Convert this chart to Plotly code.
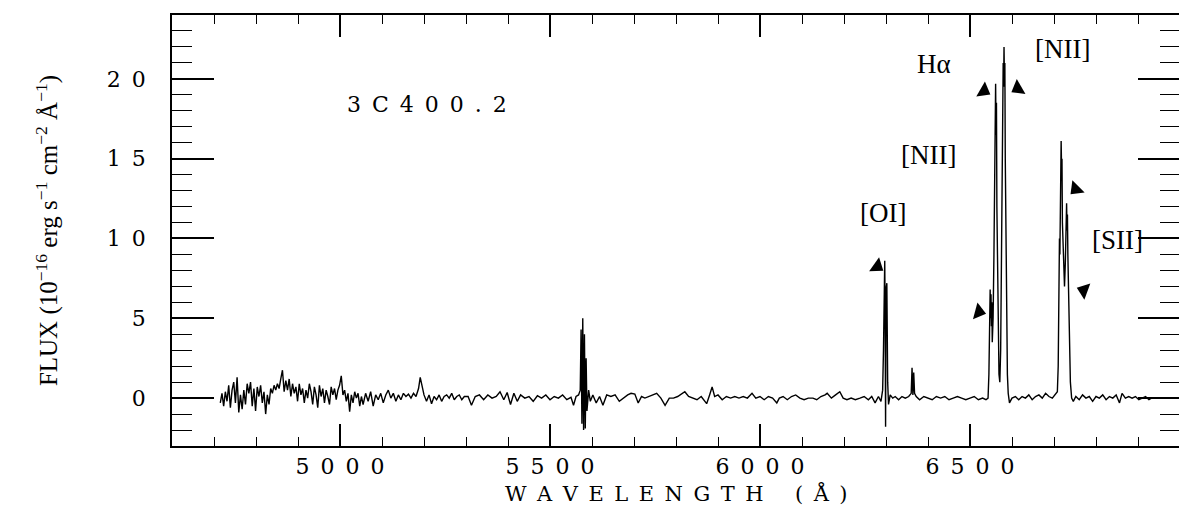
import plotly.graph_objects as go

# ---------------- data (wavelength in Å, flux in 1e-16 cgs) ----------------
blue_wavelength = [
    4715, 4719, 4723, 4727, 4731, 4735, 4739, 4743, 4747, 4751, 4755, 4759, 4763, 4767, 4771,
    4775, 4779, 4783, 4787, 4791, 4795, 4799, 4803, 4807, 4811, 4815, 4819, 4823, 4827, 4831,
    4835, 4839, 4843, 4847, 4851, 4855, 4859, 4863, 4867, 4871, 4875, 4879, 4883, 4887, 4891,
    4895, 4899, 4903, 4907, 4911, 4915, 4919, 4923, 4927, 4931, 4935, 4939, 4943, 4947, 4951,
    4955, 4959, 4963, 4967, 4971, 4975, 4979, 4983, 4987, 4991, 4995, 4999, 5003, 5007, 5011,
    5015, 5019, 5023, 5027, 5031, 5035, 5039, 5043, 5047, 5051, 5055,
    5061, 5067, 5073, 5079, 5085, 5091, 5097, 5103, 5109, 5115, 5121, 5127, 5133, 5139, 5145,
    5151, 5157, 5163, 5169, 5175, 5181, 5187, 5191, 5195, 5200, 5206, 5212, 5218, 5224, 5230,
    5236, 5242, 5248, 5254, 5260, 5266, 5272, 5278, 5284, 5290, 5296,
]
blue_flux = [
    -0.3, 0.3, -0.5, 0.4, -0.2, 0.8, -0.6, 0.5, 1.0, -0.3, 1.3, -0.9, 0.2, -0.7, 0.5,
    -0.4, 0.9, 0.3, 1.0, -0.5, 0.6, -0.8, 0.7, 0.1, 0.8, -0.3, 0.4, -1.0, 0.2, -0.4,
    0.6, 0.3, 0.8, 0.5, 0.9, 0.6, 1.2, 1.75, 0.4, 1.1, 0.5, 1.2, 0.1, 0.9, 0.3,
    0.7, -0.2, 0.9, 0.2, 0.6, -0.3, 0.5, 0.0, 0.9, 0.4, -0.4, 0.7, 0.2, -0.6, 0.8,
    0.1, 0.6, -0.3, 0.5, 0.1, -0.4, 0.7, 0.2, 0.6, -0.1, 0.5, 0.8, 1.4, 0.2, 0.5,
    -0.2, 0.3, -0.85, 0.2, -0.3, 0.4, 0.0, 0.3, -0.5, 0.1, -0.4,
    0.3, -0.2, 0.4, -0.5, 0.2, -0.1, 0.3, -0.3, 0.2, 0.5, 0.0, 0.3, -0.2, 0.2, -0.1,
    0.3, 0.1, 0.25, 0.0, 0.3, 0.1, 0.6, 1.3, 0.8, 0.2, -0.2, 0.2, -0.35, 0.1, -0.1,
    0.2, -0.2, 0.1, 0.2, 0.0, 0.3, -0.1, 0.1, 0.2, -0.1, 0.1,
]

green_wavelength = [
    5305, 5313, 5322, 5332, 5342, 5352, 5362, 5372, 5381, 5390, 5398, 5406, 5414, 5422, 5430,
    5440, 5450, 5460, 5470, 5480, 5490, 5500, 5510, 5520, 5530, 5540, 5550, 5556, 5562, 5568,
]
green_flux = [
    0.1, -0.45, 0.1, 0.2, -0.1, 0.2, 0.0, 0.1, 0.4, -0.1, 0.35, -0.4, 0.3, -0.2, 0.2,
    0.0, 0.1, -0.2, 0.15, 0.0, 0.2, -0.1, 0.1, 0.0, 0.2, -0.1, 0.05, -0.45, 0.1, 0.2,
]

sky_wavelength = [5572, 5574, 5576, 5578, 5580, 5582, 5584, 5586, 5588, 5592, 5596]
sky_flux = [0.5, 4.3, -1.6, 5.0, -2.0, 4.0, -1.9, 2.5, -0.8, 0.5, -0.2]

red_wavelength = [
    5602, 5610, 5618, 5626, 5635, 5645, 5655, 5665, 5675, 5685, 5693, 5702, 5710, 5718, 5726,
    5735, 5745, 5754, 5764, 5774, 5784, 5794, 5804, 5814, 5821, 5830, 5840, 5850, 5860, 5873,
    5880, 5886, 5892, 5900, 5910, 5920, 5930, 5940, 5950, 5960, 5970, 5981, 5990, 6000, 6010,
    6020, 6030, 6040, 6046, 6055, 6065, 6075, 6085, 6095, 6105, 6115, 6126, 6135, 6145, 6155,
    6160, 6170, 6180, 6190, 6198, 6207, 6217, 6227, 6238, 6248, 6258, 6266, 6274, 6282, 6288,
]
red_flux = [
    0.2, -0.3, 0.1, -0.45, 0.2, 0.1, 0.2, -0.2, 0.0, 0.2, 0.3, 0.25, -0.3, 0.1, 0.0,
    0.1, 0.2, 0.3, 0.0, -0.45, 0.0, 0.0, 0.1, 0.3, 0.4, 0.1, 0.0, -0.1, 0.1, -0.35,
    0.2, 0.7, 0.1, 0.2, -0.1, 0.1, 0.0, 0.1, 0.0, 0.1, 0.0, 0.3, 0.0, 0.1, -0.1,
    0.1, 0.0, -0.3, 0.0, 0.1, -0.1, 0.1, 0.2, 0.0, -0.1, 0.0, 0.0, -0.1, 0.1, 0.2,
    0.3, 0.0, 0.2, 0.4, 0.0, -0.1, 0.0, -0.1, 0.0, 0.1, -0.1, 0.1, -0.3, 0.1, -0.2,
]

oi_wavelength = [6292, 6294, 6296, 6297, 6298, 6299, 6300, 6302, 6304, 6306]
oi_flux = [0.5, 3.0, 7.6, 8.6, 5.0, -1.8, 6.8, 7.2, 1.0, -0.4]

mid_wavelength = [
    6310, 6316, 6322, 6330, 6338, 6346, 6354, 6360, 6362, 6364, 6366, 6368, 6372, 6380, 6390,
    6400, 6410, 6420, 6430, 6440, 6450, 6460, 6470, 6480, 6490, 6500, 6510, 6520, 6530, 6538,
]
mid_flux = [
    0.2, 0.0, 0.1, -0.1, 0.1, 0.0, 0.1, 0.3, 1.9, 0.2, 1.6, 0.3, 0.1, -0.1, 0.1,
    0.0, -0.1, 0.1, 0.0, 0.1, -0.1, 0.0, 0.1, 0.0, -0.1, 0.0, 0.1, -0.1, 0.0, -0.1,
]

halpha_wavelength = [
    6543, 6545, 6546, 6547, 6548, 6549, 6550, 6551, 6552, 6553, 6555, 6557, 6558, 6559, 6560,
    6561, 6562, 6563, 6564, 6565, 6567, 6569, 6571, 6573, 6575, 6576, 6577, 6578, 6579, 6580,
    6581, 6582, 6583, 6584, 6585, 6587, 6589, 6591, 6594, 6600,
]
halpha_flux = [
    0.0, 1.5, 5.0, 3.5, 6.8, 5.0, 6.5, 4.5, 6.0, 3.5, 5.0, 9.0, 13.0, 11.0, 18.0,
    19.7, 16.5, 18.5, 12.0, 10.0, 5.0, 1.5, 1.0, 3.0, 9.0, 13.0, 12.0, 18.0, 21.0, 19.5,
    22.0, 20.0, 21.0, 15.0, 12.0, 5.0, 1.5, 0.3, -0.3, 0.0,
]

gap_wavelength = [6608, 6616, 6624, 6632, 6640, 6648, 6656, 6664, 6672, 6680, 6688, 6696, 6702, 6706]
gap_flux = [0.1, -0.1, 0.1, 0.0, 0.2, -0.1, 0.1, 0.2, 0.0, 0.3, 0.1, 0.0, 0.2, 0.4]

sii_wavelength = [
    6708, 6710, 6711, 6712, 6713, 6714, 6715, 6716, 6717, 6718, 6719, 6720, 6721, 6723, 6725,
    6727, 6728, 6729, 6730, 6731, 6732, 6733, 6735, 6737, 6739, 6742, 6746,
]
sii_flux = [
    0.4, 2.0, 6.0, 4.5, 10.0, 9.0, 14.0, 12.5, 16.1, 14.5, 15.0, 11.0, 10.0, 8.0, 7.0,
    8.5, 11.5, 10.0, 12.2, 10.5, 11.5, 9.0, 6.0, 3.0, 1.0, 0.0, -0.2,
]

far_wavelength = [
    6752, 6760, 6768, 6776, 6784, 6792, 6800, 6808, 6816, 6824, 6832, 6840, 6848, 6856, 6862,
    6870, 6878, 6886, 6894, 6902, 6910, 6918, 6926, 6932,
]
far_flux = [
    0.1, -0.1, 0.2, 0.0, 0.1, -0.2, 0.1, 0.0, 0.2, -0.1, 0.1, 0.0, 0.2, -0.3, 0.3,
    0.0, 0.1, 0.0, 0.1, -0.1, 0.0, 0.1, -0.1, 0.0,
]

# line labels
label_text = ["3C400.2", "H\u03b1", "[NII]", "[NII]", "[OI]", "[SII]"]
label_wavelength = [5208, 6414, 6721, 6400, 6293, 6850]
label_flux = [18.4, 20.9, 21.9, 15.2, 11.6, 9.9]

# arrowheads pointing at the lines
arrow_wavelength = [6279, 6533, 6614, 6521, 6752, 6771]
arrow_flux = [8.25, 19.25, 19.4, 5.4, 13.1, 6.75]
arrow_angle = [35, 30, 150, 15, 135, 200]

x_tick_values = [5000, 5500, 6000, 6500]
x_tick_labels = ["5000", "5500", "6000", "6500"]
y_tick_values = [0, 5, 10, 15, 20]
y_tick_labels = ["0", "5", "10", "15", "20"]
x_title = "WAVELENGTH (\u00c5)"
y_title = "FLUX (10<sup>\u221216</sup> erg s<sup>\u22121</sup> cm<sup>\u22122</sup> \u00c5<sup>\u22121</sup>)"

# ---------------- assemble spectrum ----------------
segments = [
    (blue_wavelength, blue_flux), (green_wavelength, green_flux), (sky_wavelength, sky_flux),
    (red_wavelength, red_flux), (oi_wavelength, oi_flux), (mid_wavelength, mid_flux),
    (halpha_wavelength, halpha_flux), (gap_wavelength, gap_flux), (sii_wavelength, sii_flux),
    (far_wavelength, far_flux),
]
wavelength, flux = [], []
for w, f in segments:
    for a, b in zip(w, f, strict=True):
        wavelength.append(a)
        flux.append(b)

# ---------------- styling helpers ----------------
WIDE = "\u2002"  # spacing that mimics the wide plotter lettering


def spaced(s):
    words = s.split(" ")
    return ("\u2003\u2002").join(WIDE.join(list(wd)) for wd in words)


plot_font = "DejaVu Serif"
label_font = "Liberation Serif, Times New Roman, serif"

fig = go.Figure()
fig.add_trace(go.Scatter(
    x=wavelength, y=flux, mode="lines",
    line=dict(color="black", width=1.4),
    hoverinfo="skip", showlegend=False,
))

fig.add_trace(go.Scatter(
    x=arrow_wavelength, y=arrow_flux, mode="markers",
    marker=dict(symbol="triangle-right", size=15, color="black", angle=arrow_angle,
                line=dict(width=0)),
    hoverinfo="skip", showlegend=False,
))

for i, (t, xv, yv) in enumerate(zip(label_text, label_wavelength, label_flux)):
    if i == 0:
        txt = spaced(t)
        fnt = dict(family=plot_font, size=22, color="black")
    else:
        txt = t
        fnt = dict(family=label_font, size=27, color="black")
    fig.add_annotation(x=xv, y=yv, text=txt, showarrow=False, font=fnt,
                       xanchor="center", yanchor="middle")

# x-axis title as a paper-anchored annotation
fig.add_annotation(x=0.5, y=-0.11, xref="paper", yref="paper", text=spaced(x_title),
                   showarrow=False, xanchor="center", yanchor="middle",
                   font=dict(family=plot_font, size=21, color="black"))

fig.update_xaxes(
    range=[4600, 7000],
    showline=True, linecolor="black", linewidth=1.5, mirror="allticks",
    ticks="inside", ticklen=22, tickwidth=1.5, tickcolor="black",
    tickmode="array", tickvals=x_tick_values, ticktext=[spaced(s) for s in x_tick_labels],
    minor=dict(ticks="inside", ticklen=9, tickwidth=1.2, tickcolor="black",
               tickmode="linear", tick0=4600, dtick=100, showgrid=False),
    showgrid=False, zeroline=False,
    tickfont=dict(family=plot_font, size=22, color="black"),
    ticklabelstandoff=0,
)

fig.update_yaxes(
    range=[-3, 24],
    showline=True, linecolor="black", linewidth=1.5, mirror="allticks",
    ticks="inside", ticklen=42, tickwidth=1.5, tickcolor="black",
    tickmode="array", tickvals=y_tick_values, ticktext=[spaced(s) for s in y_tick_labels],
    minor=dict(ticks="inside", ticklen=20, tickwidth=1.2, tickcolor="black",
               tickmode="linear", tick0=0, dtick=1, showgrid=False),
    showgrid=False, zeroline=False,
    tickfont=dict(family=plot_font, size=22, color="black"),
    ticklabelstandoff=20,
    title=dict(text=y_title, font=dict(family=label_font, size=25, color="black"), standoff=42),
)

# The page body keeps its default 8px margin, so the figure is sized to fill the rest of the
# 1187x509 window and the margins are reduced by the same 8px.
fig.update_layout(
    width=1179, height=501,
    margin=dict(l=164, r=6, t=5, b=63),
    paper_bgcolor="white", plot_bgcolor="white",
    showlegend=False,
)

fig.write_html("out.html")
